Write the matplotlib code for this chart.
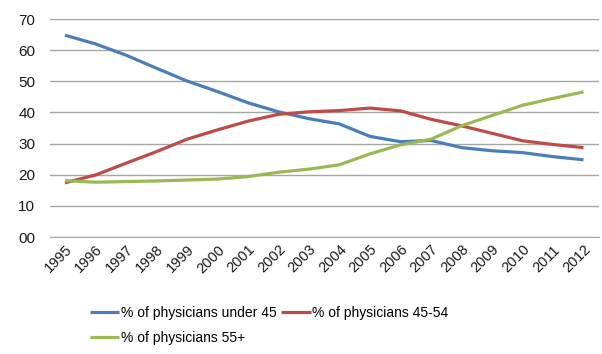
import matplotlib
matplotlib.use('Agg')
import matplotlib.pyplot as plt
import numpy as np

plt.rcParams['font.family'] = ['Liberation Sans', 'DejaVu Sans']

# 年份和三条曲线的数据
years = ['1995', '1996', '1997', '1998', '1999', '2000', '2001', '2002', '2003',
         '2004', '2005', '2006', '2007', '2008', '2009', '2010', '2011', '2012']
under_45 = [64.8, 62.0, 58.4, 54.2, 50.1, 46.7, 43.1, 40.2, 38.0,
            36.3, 32.3, 30.6, 31.0, 28.7, 27.7, 27.1, 25.8, 24.8]
age_45_54 = [17.4, 19.9, 23.7, 27.4, 31.4, 34.4, 37.2, 39.4, 40.2,
             40.6, 41.4, 40.5, 37.8, 35.7, 33.3, 30.9, 29.7, 28.7]
over_55 = [18.1, 17.6, 17.8, 18.0, 18.3, 18.6, 19.4, 20.8, 21.8,
           23.2, 26.7, 29.6, 31.4, 35.7, 39.0, 42.3, 44.5, 46.6]
y_ticks = [0, 10, 20, 30, 40, 50, 60, 70]
y_labels = ['00', '10', '20', '30', '40', '50', '60', '70']

labels = ['% of physicians under 45', '% of physicians 45-54', '% of physicians 55+']
colors = ['#4a7ebb', '#be4b48', '#98b954']

fig = plt.figure(figsize=(6.02, 3.54), dpi=100)
ax = fig.add_axes([0.0826, 0.3305, 0.912, 0.6158])

x = np.arange(len(years))
lines = []
for data, c, lab in zip([under_45, age_45_54, over_55], colors, labels):
    ln, = ax.plot(x, data, color=c, linewidth=2.3, label=lab, solid_capstyle='butt')
    lines.append(ln)

ax.set_xlim(-0.5, len(years) - 0.5)
ax.set_ylim(0, 70)
ax.set_yticks(y_ticks)
ax.set_yticklabels(y_labels, fontsize=11)
ax.set_xticks(x)
ax.set_xticklabels(years, rotation=45, fontsize=10.5, ha='right', rotation_mode='anchor')
ax.grid(axis='y', color='#a6a6a6', linewidth=1)
ax.set_axisbelow(True)
for s in ['top', 'right', 'left']:
    ax.spines[s].set_visible(False)
ax.spines['bottom'].set_color('#a6a6a6')
ax.tick_params(axis='both', length=0, colors='#1a1a1a')
ax.tick_params(axis='y', pad=10.5)
ax.tick_params(axis='x', pad=4)

# 图例: 第一行蓝 红, 第二行绿
handles = [lines[0], lines[2], lines[1]]
leg = fig.legend(handles, [h.get_label() for h in handles], ncol=2,
                 loc='upper left', bbox_to_anchor=(0.15, 0.135), frameon=False,
                 fontsize=10, handlelength=2.1, handletextpad=0.1,
                 columnspacing=0.35, labelspacing=0.8, borderaxespad=0,
                 borderpad=0)

fig.savefig('out.png', dpi=100)
